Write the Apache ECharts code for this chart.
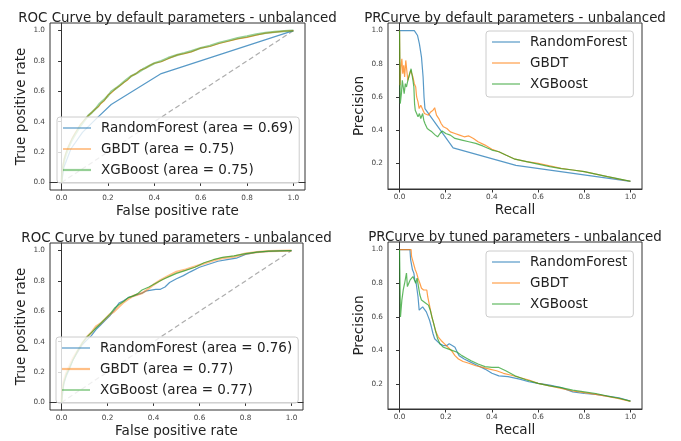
<!DOCTYPE html>
<html>
<head>
<meta charset="utf-8">
<script src="https://cdn.jsdelivr.net/npm/echarts@6/dist/echarts.min.js"></script>
<style>
  html, body { margin: 0; background: #fff; }
  #chart { width: 681px; height: 441px; }
</style>
</head>
<body>
<div id="chart"></div>
<script>
// tick labels shared by every axis
const TICKS = [0, 0.2, 0.4, 0.6, 0.8, 1.0];
const DIAG = [[0, 0], [1, 1]];

// ROC - default parameters
const rocDefRF = [[0,0],[0.01,0.1],[0.04,0.22],[0.09,0.33],[0.15,0.42],[0.214,0.513],[0.43,0.717],[1,1]];
const rocDefGBDT = [[0,0],[0.002,0.06],[0.006,0.11],[0.012,0.16],[0.02,0.2],[0.03,0.24],[0.045,0.29],[0.06,0.33],[0.08,0.38],[0.1,0.415],[0.115,0.44],[0.13,0.46],[0.15,0.49],[0.16,0.5],[0.17,0.52],[0.185,0.54],[0.2,0.575],[0.215,0.59],[0.235,0.62],[0.25,0.635],[0.27,0.66],[0.285,0.675],[0.3,0.7],[0.32,0.715],[0.34,0.74],[0.36,0.75],[0.38,0.77],[0.4,0.785],[0.43,0.795],[0.46,0.815],[0.5,0.84],[0.53,0.848],[0.56,0.86],[0.6,0.885],[0.64,0.895],[0.68,0.915],[0.72,0.93],[0.76,0.945],[0.8,0.955],[0.84,0.97],[0.88,0.983],[0.92,0.99],[0.96,0.997],[1,1]];
const rocDefXGB = [[0,0],[0.002,0.05],[0.006,0.1],[0.012,0.15],[0.02,0.19],[0.03,0.23],[0.045,0.28],[0.06,0.32],[0.08,0.37],[0.1,0.41],[0.115,0.44],[0.13,0.46],[0.15,0.49],[0.165,0.52],[0.18,0.54],[0.2,0.57],[0.215,0.6],[0.235,0.62],[0.255,0.645],[0.275,0.67],[0.3,0.7],[0.325,0.72],[0.35,0.745],[0.375,0.765],[0.4,0.785],[0.43,0.8],[0.46,0.82],[0.5,0.84],[0.53,0.852],[0.56,0.865],[0.6,0.885],[0.64,0.9],[0.68,0.92],[0.72,0.935],[0.76,0.95],[0.8,0.962],[0.84,0.975],[0.88,0.985],[0.92,0.992],[0.96,0.997],[1,1]];

// PR - default parameters
const prDefRF = [[0,1],[0.064,1],[0.078,0.97],[0.086,0.92],[0.095,0.84],[0.102,0.72],[0.106,0.6],[0.11,0.53],[0.232,0.293],[0.504,0.188],[1,0.091]];
const prDefGBDT = [[0,1],[0.002,0.67],[0.006,0.78],[0.01,0.83],[0.014,0.74],[0.018,0.79],[0.022,0.72],[0.027,0.82],[0.032,0.75],[0.036,0.7],[0.042,0.73],[0.048,0.76],[0.054,0.77],[0.058,0.72],[0.064,0.68],[0.07,0.66],[0.074,0.6],[0.08,0.57],[0.085,0.53],[0.092,0.55],[0.1,0.54],[0.108,0.5],[0.115,0.51],[0.125,0.49],[0.135,0.51],[0.145,0.52],[0.152,0.535],[0.16,0.49],[0.17,0.47],[0.18,0.44],[0.19,0.42],[0.205,0.41],[0.22,0.39],[0.24,0.38],[0.26,0.37],[0.28,0.36],[0.3,0.365],[0.32,0.35],[0.34,0.33],[0.37,0.31],[0.4,0.285],[0.43,0.27],[0.46,0.25],[0.5,0.225],[0.55,0.21],[0.6,0.2],[0.65,0.185],[0.7,0.17],[0.75,0.16],[0.8,0.15],[0.85,0.135],[0.9,0.12],[0.95,0.105],[1,0.092]];
const prDefXGB = [[0,1],[0.003,0.56],[0.008,0.62],[0.012,0.7],[0.016,0.66],[0.02,0.62],[0.025,0.68],[0.03,0.66],[0.036,0.7],[0.042,0.73],[0.05,0.77],[0.054,0.76],[0.058,0.7],[0.062,0.66],[0.065,0.56],[0.068,0.52],[0.074,0.5],[0.08,0.48],[0.086,0.5],[0.092,0.47],[0.1,0.5],[0.105,0.46],[0.11,0.44],[0.12,0.41],[0.13,0.4],[0.14,0.39],[0.155,0.37],[0.165,0.36],[0.175,0.38],[0.185,0.395],[0.2,0.38],[0.22,0.37],[0.24,0.35],[0.27,0.34],[0.3,0.33],[0.33,0.32],[0.36,0.305],[0.4,0.28],[0.43,0.27],[0.46,0.25],[0.5,0.225],[0.55,0.21],[0.6,0.195],[0.65,0.18],[0.7,0.168],[0.75,0.16],[0.8,0.15],[0.85,0.135],[0.9,0.12],[0.95,0.107],[1,0.092]];

// ROC - tuned parameters
const rocTunRF = [[0,0],[0.005,0.06],[0.01,0.12],[0.02,0.17],[0.035,0.22],[0.05,0.28],[0.07,0.33],[0.09,0.38],[0.11,0.41],[0.13,0.44],[0.15,0.48],[0.17,0.51],[0.19,0.54],[0.21,0.57],[0.23,0.61],[0.25,0.655],[0.27,0.67],[0.29,0.69],[0.31,0.7],[0.33,0.71],[0.35,0.72],[0.37,0.735],[0.39,0.74],[0.41,0.745],[0.43,0.745],[0.45,0.76],[0.47,0.79],[0.5,0.815],[0.53,0.835],[0.56,0.86],[0.6,0.89],[0.64,0.91],[0.68,0.93],[0.72,0.94],[0.76,0.95],[0.8,0.975],[0.85,0.99],[0.9,0.995],[0.95,0.998],[1,1]];
const rocTunGBDT = [[0,0],[0.003,0.08],[0.01,0.14],[0.02,0.19],[0.035,0.24],[0.05,0.29],[0.07,0.34],[0.09,0.39],[0.11,0.43],[0.13,0.46],[0.15,0.5],[0.17,0.52],[0.19,0.55],[0.21,0.58],[0.23,0.6],[0.25,0.63],[0.27,0.66],[0.29,0.68],[0.31,0.7],[0.33,0.71],[0.35,0.72],[0.37,0.74],[0.4,0.775],[0.43,0.805],[0.46,0.83],[0.5,0.86],[0.54,0.875],[0.58,0.895],[0.62,0.915],[0.66,0.935],[0.7,0.95],[0.75,0.96],[0.8,0.98],[0.85,0.99],[0.9,0.997],[1,1]];
const rocTunXGB = [[0,0],[0.004,0.07],[0.01,0.13],[0.02,0.18],[0.035,0.23],[0.05,0.28],[0.07,0.34],[0.09,0.39],[0.11,0.43],[0.13,0.46],[0.15,0.49],[0.17,0.52],[0.19,0.55],[0.21,0.58],[0.23,0.62],[0.25,0.645],[0.27,0.665],[0.29,0.69],[0.31,0.7],[0.33,0.715],[0.35,0.74],[0.38,0.76],[0.41,0.785],[0.44,0.81],[0.47,0.83],[0.5,0.85],[0.54,0.87],[0.58,0.89],[0.62,0.92],[0.66,0.94],[0.7,0.955],[0.75,0.965],[0.8,0.98],[0.85,0.99],[0.9,0.997],[1,1]];

// PR - tuned parameters
const prTunRF = [[0,1],[0.045,1],[0.048,0.94],[0.056,0.88],[0.062,0.86],[0.066,0.82],[0.072,0.8],[0.08,0.72],[0.085,0.64],[0.092,0.65],[0.1,0.66],[0.108,0.65],[0.116,0.63],[0.122,0.62],[0.13,0.58],[0.138,0.54],[0.145,0.5],[0.152,0.47],[0.16,0.46],[0.175,0.44],[0.19,0.43],[0.205,0.43],[0.215,0.44],[0.228,0.43],[0.24,0.42],[0.25,0.39],[0.258,0.37],[0.28,0.35],[0.31,0.33],[0.34,0.31],[0.37,0.29],[0.4,0.265],[0.43,0.25],[0.47,0.245],[0.52,0.23],[0.56,0.215],[0.6,0.205],[0.65,0.195],[0.7,0.18],[0.75,0.155],[0.8,0.145],[0.85,0.14],[0.9,0.13],[0.95,0.12],[1,0.1]];
const prTunGBDT = [[0,1],[0.05,1],[0.052,0.96],[0.058,0.93],[0.064,0.92],[0.068,0.88],[0.074,0.86],[0.08,0.83],[0.088,0.8],[0.095,0.77],[0.104,0.76],[0.112,0.77],[0.118,0.76],[0.122,0.72],[0.128,0.68],[0.134,0.64],[0.142,0.59],[0.15,0.55],[0.158,0.51],[0.168,0.48],[0.18,0.46],[0.195,0.44],[0.21,0.42],[0.225,0.4],[0.24,0.37],[0.255,0.35],[0.275,0.335],[0.3,0.325],[0.33,0.31],[0.36,0.3],[0.39,0.29],[0.42,0.28],[0.45,0.265],[0.48,0.255],[0.52,0.24],[0.56,0.225],[0.6,0.205],[0.65,0.19],[0.7,0.175],[0.75,0.16],[0.8,0.15],[0.85,0.14],[0.9,0.128],[0.95,0.115],[1,0.098]];
const prTunXGB = [[0,1],[0.004,0.6],[0.01,0.7],[0.016,0.76],[0.022,0.8],[0.03,0.86],[0.034,0.78],[0.04,0.8],[0.046,0.82],[0.052,0.82],[0.058,0.84],[0.064,0.82],[0.07,0.8],[0.076,0.83],[0.082,0.78],[0.088,0.73],[0.095,0.7],[0.105,0.69],[0.115,0.68],[0.125,0.67],[0.133,0.64],[0.14,0.6],[0.148,0.56],[0.155,0.52],[0.165,0.47],[0.175,0.44],[0.19,0.42],[0.21,0.41],[0.23,0.4],[0.25,0.39],[0.27,0.37],[0.29,0.355],[0.31,0.34],[0.34,0.32],[0.37,0.305],[0.4,0.3],[0.43,0.3],[0.46,0.28],[0.5,0.25],[0.55,0.225],[0.6,0.205],[0.65,0.19],[0.7,0.18],[0.75,0.165],[0.8,0.155],[0.85,0.145],[0.9,0.13],[0.95,0.117],[1,0.1]];

const FONT = "DejaVu Sans";
const BLUE = "#1f77b4", ORANGE = "#ff7f0e", GREEN = "#2ca02c";

// 패널마다 위치, 제목, 범례 위치, 곡선
const panels = [
  {
    grid: { left: 50, top: 23, width: 255, height: 167 },
    yMin: -0.05, yMax: 1.05, diag: true,
    title: "ROC Curve by default parameters - unbalanced",
    xName: "False positive rate", yName: "True positive rate",
    legend: { left: 57, top: 117 },
    lines: [
      { name: "RandomForest (area = 0.69)", data: rocDefRF, color: BLUE, width: 1.2, opacity: 0.75 },
      { name: "GBDT (area = 0.75)", data: rocDefGBDT, color: ORANGE, width: 1.2, opacity: 0.75 },
      { name: "XGBoost (area = 0.75)", data: rocDefXGB, color: GREEN, width: 2.2, opacity: 0.5 },
    ],
  },
  {
    grid: { left: 388, top: 23, width: 254, height: 166 },
    yMin: 0.0455, yMax: 1.0455, diag: false,
    title: "PRCurve by default parameters - unbalanced",
    xName: "Recall", yName: "Precision",
    legend: { left: 486, top: 31 },
    lines: [
      { name: "RandomForest", data: prDefRF, color: BLUE, width: 1.2, opacity: 0.75 },
      { name: "GBDT", data: prDefGBDT, color: ORANGE, width: 1.2, opacity: 0.75 },
      { name: "XGBoost", data: prDefXGB, color: GREEN, width: 1.2, opacity: 0.75 },
    ],
  },
  {
    grid: { left: 50, top: 243, width: 253, height: 167 },
    yMin: -0.05, yMax: 1.05, diag: true,
    title: "ROC Curve by tuned parameters - unbalanced",
    xName: "False positive rate", yName: "True positive rate",
    legend: { left: 56, top: 337 },
    lines: [
      { name: "RandomForest (area = 0.76)", data: rocTunRF, color: BLUE, width: 1.2, opacity: 0.75 },
      { name: "GBDT (area = 0.77)", data: rocTunGBDT, color: ORANGE, width: 2.2, opacity: 0.5 },
      { name: "XGBoost (area = 0.77)", data: rocTunXGB, color: GREEN, width: 1.2, opacity: 0.75 },
    ],
  },
  {
    grid: { left: 388, top: 242, width: 254, height: 167 },
    yMin: 0.053, yMax: 1.045, diag: false,
    title: "PRCurve by tuned parameters - unbalanced",
    xName: "Recall", yName: "Precision",
    legend: { left: 486, top: 251 },
    lines: [
      { name: "RandomForest", data: prTunRF, color: BLUE, width: 1.2, opacity: 0.75 },
      { name: "GBDT", data: prTunGBDT, color: ORANGE, width: 1.2, opacity: 0.75 },
      { name: "XGBoost", data: prTunXGB, color: GREEN, width: 1.2, opacity: 0.75 },
    ],
  },
];

const axisCommon = {
  type: "value",
  nameLocation: "middle",
  nameTextStyle: { fontSize: 13.5, color: "#222", fontFamily: FONT },
  axisLine: { show: true, lineStyle: { color: "#333", width: 1 } },
  axisTick: { show: true, length: 3.5, customValues: TICKS, lineStyle: { color: "#333" } },
  axisLabel: { customValues: TICKS, formatter: v => v.toFixed(1), fontSize: 7.3, color: "#444", fontFamily: FONT, margin: 5 },
  splitLine: { show: false },
};

// 범례 아이콘: 선 굵기만큼 얇은 막대 (keepAspect로 가운데 정렬)
function lineIcon(w) {
  return `path://M0,0H280V${Math.round(w * 10)}H0Z`;
}

function rgba(hex, a) {
  const n = parseInt(hex.slice(1), 16);
  return `rgba(${n >> 16},${(n >> 8) & 255},${n & 255},${a})`;
}

const grid = [], xAxis = [], yAxis = [], title = [], legend = [], series = [];

panels.forEach((p, i) => {
  grid.push({ ...p.grid, show: true, borderColor: "#333", borderWidth: 1, backgroundColor: "transparent" });
  xAxis.push({ ...axisCommon, gridIndex: i, min: -0.05, max: 1.05, name: p.xName, nameGap: 14 });
  yAxis.push({ ...axisCommon, gridIndex: i, min: p.yMin, max: p.yMax, name: p.yName, nameGap: 22 });
  title.push({
    text: p.title,
    left: p.grid.left + p.grid.width / 2,
    top: p.grid.top - 11,
    textAlign: "center",
    padding: 0,
    textStyle: { fontSize: 13.4, fontWeight: "normal", color: "#222", fontFamily: FONT },
  });
  legend.push({
    data: p.lines.map(l => ({
      name: l.name,
      icon: lineIcon(l.width),
      itemStyle: { color: rgba(l.color, l.opacity) },
    })),
    orient: "vertical",
    left: p.legend.left, top: p.legend.top,
    itemWidth: 28, itemHeight: 14, itemGap: 7,
    symbolKeepAspect: true,
    padding: [4, 6, 6, 6],
    backgroundColor: "rgba(255,255,255,0.8)",
    borderColor: "#ccc", borderWidth: 1, borderRadius: 3,
    selectedMode: false,
    textStyle: { fontSize: 13.5, color: "#222", fontFamily: FONT, padding: [0, 0, 0, 5] },
  });
  if (p.diag) {
    series.push({
      type: "line", xAxisIndex: i, yAxisIndex: i, data: DIAG, symbol: "none", silent: true,
      lineStyle: { color: "#999", width: 1.2, type: [5, 3], opacity: 0.8 },
    });
  }
  p.lines.forEach(l => {
    series.push({
      type: "line", name: l.name, xAxisIndex: i, yAxisIndex: i, data: l.data,
      symbol: "none",
      itemStyle: { color: l.color },
      lineStyle: { color: l.color, width: l.width, opacity: l.opacity },
    });
  });
});

const chart = echarts.init(document.getElementById("chart"), null, { renderer: "canvas" });
chart.setOption({ animation: false, textStyle: { fontFamily: FONT }, grid, xAxis, yAxis, title, legend, series });
</script>
</body>
</html>
